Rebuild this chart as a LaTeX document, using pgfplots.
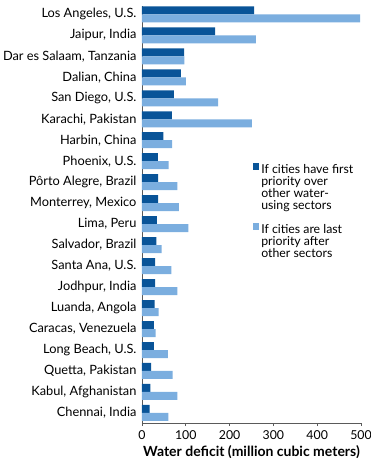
\documentclass[border=0pt]{standalone}
\usepackage{pgfplots}
\pgfplotsset{compat=1.18}
\usepackage{fontspec}
\setmainfont{Lato}
\definecolor{darkb}{RGB}{9,84,152}
\definecolor{lightb}{RGB}{123,174,223}
\definecolor{axgray}{RGB}{90,90,90}
\begin{document}
\begin{tikzpicture}
\begin{axis}[
  scale only axis,
  width=219pt, height=417pt,
  xbar, bar width=8pt,
  xmin=0, xmax=500,
  ymin=-0.48, ymax=19.4,
  clip=false,
  axis x line*=bottom, axis y line*=left,
  axis line style={axgray, line width=0.6pt},
  xtick={0,100,...,500},
  tick align=outside,
  x tick style={axgray, line width=0.6pt},
  major tick length=3pt,
  ytick={0,...,19},
  y tick style={draw=none},
  yticklabels={{Chennai, India}, {Kabul, Afghanistan}, {Quetta, Pakistan}, {Long Beach, U.S.}, {Caracas, Venezuela}, {Luanda, Angola}, {Jodhpur, India}, {Santa Ana, U.S.}, {Salvador, Brazil}, {Lima, Peru}, {Monterrey, Mexico}, {Pôrto Alegre, Brazil}, {Phoenix, U.S.}, {Harbin, China}, {Karachi, Pakistan}, {San Diego, U.S.}, {Dalian, China}, {Dar es Salaam, Tanzania}, {Jaipur, India}, {Los Angeles, U.S.}},
  yticklabel style={font=\fontsize{12.8}{13}\selectfont, xshift=1pt},
  xticklabel style={font=\fontsize{12.3}{13}\selectfont, yshift=-1.5pt},
  /pgf/number format/assume math mode=true,
  xlabel={\bfseries Water deficit (million cubic meters)},
  xlabel style={font=\fontsize{14}{15}\selectfont, yshift=1.5pt},
  legend style={draw=none, fill=none, inner sep=0pt, at={(rel axis cs:0.505,0.640)}, anchor=north west,
    font=\fontsize{12.3}{12}\selectfont, row sep=3pt, column sep=0pt,
    cells={align=left, anchor=north west, inner xsep=2.5pt}},
  legend image code/.code={\path (0pt,6pt); \fill[#1] (0pt,-7.5pt) rectangle (6.5pt,-1pt);},
]
\addplot[fill=darkb, draw=none, bar shift=4pt] coordinates {
 (17.5,0) (19,1) (21,2) (27,3) (27,4) (29,5) (30,6) (30,7) (33,8) (34,9)
 (37,10) (37,11) (36.5,12) (49,13) (68,14) (73,15) (89,16) (96,17) (167,18) (256,19)};
\addlegendentry{If cities have first\\priority over\\other water-\\using sectors}
\addplot[fill=lightb, draw=none, bar shift=-4pt] coordinates {
 (60,0) (81,1) (70,2) (59,3) (31,4) (38,5) (81,6) (67,7) (45,8) (106,9)
 (84,10) (81,11) (61,12) (69,13) (251,14) (174,15) (100,16) (97,17) (260,18) (498,19)};
\addlegendentry{If cities are last\\priority after\\other sectors}
\coordinate (bl) at (rel axis cs:0,0);
\coordinate (tr) at (rel axis cs:1,1);
\end{axis}
\pgfresetboundingbox
\path[use as bounding box] ([shift={(-142pt,-35pt)}]bl) rectangle ([shift={(10pt,6pt)}]tr);
\end{tikzpicture}
\end{document}
